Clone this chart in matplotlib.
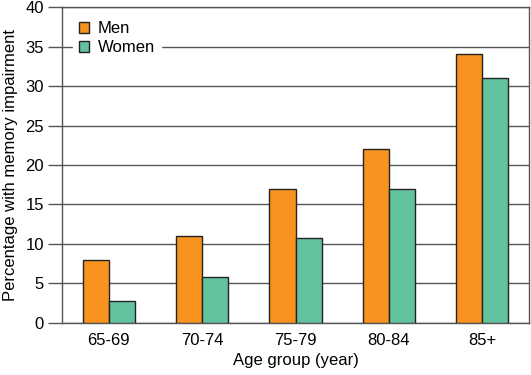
import numpy as np
import matplotlib.pyplot as plt

plt.rcParams['font.family'] = ['Liberation Sans', 'DejaVu Sans']

# Values
age_groups = ["65-69", "70-74", "75-79", "80-84", "85+"]
men = [8, 11, 17, 22, 34]
women = [2.8, 5.8, 10.8, 17, 31]

orange = '#F7931E'
green = '#63C39E'
grey = '#555555'

fig = plt.figure(figsize=(5.31, 3.75), dpi=100)
ax = fig.add_axes([0.1168, 0.1387, 0.8794, 0.8426])

x = np.arange(len(age_groups))
w = 0.28
ax.bar(x - w / 2, men, w, color=orange, edgecolor='#222222', linewidth=1, label='Men', zorder=3)
ax.bar(x + w / 2, women, w, color=green, edgecolor='#222222', linewidth=1, label='Women', zorder=3)

ax.set_xlim(-0.5, 4.5)
ax.set_ylim(0, 40)
ax.set_yticks(range(0, 41, 5))
ax.set_xticks(x)
ax.set_xticklabels(age_groups)
ax.tick_params(axis='x', length=0, pad=7, labelsize=12)
ax.tick_params(axis='y', length=10, width=1, color=grey, pad=3, labelsize=12)
ax.yaxis.grid(True, color=grey, linewidth=1)
ax.set_axisbelow(True)
for s in ax.spines.values():
    s.set_color(grey)
    s.set_linewidth(1)

ax.set_xlabel('Age group (year)', fontsize=12, labelpad=4)
ax.set_ylabel('Percentage with memory impairment', fontsize=12, labelpad=5)

leg = ax.legend(loc='upper left', bbox_to_anchor=(0.005, 1.0), frameon=True,
                fontsize=12, handlelength=0.65, handleheight=0.65, handletextpad=0.5,
                labelspacing=0.25, borderpad=0.35, fancybox=False)
leg.get_frame().set_edgecolor('white')
leg.get_frame().set_facecolor('white')
leg.get_frame().set_alpha(1)

fig.savefig('out.png', dpi=100)
